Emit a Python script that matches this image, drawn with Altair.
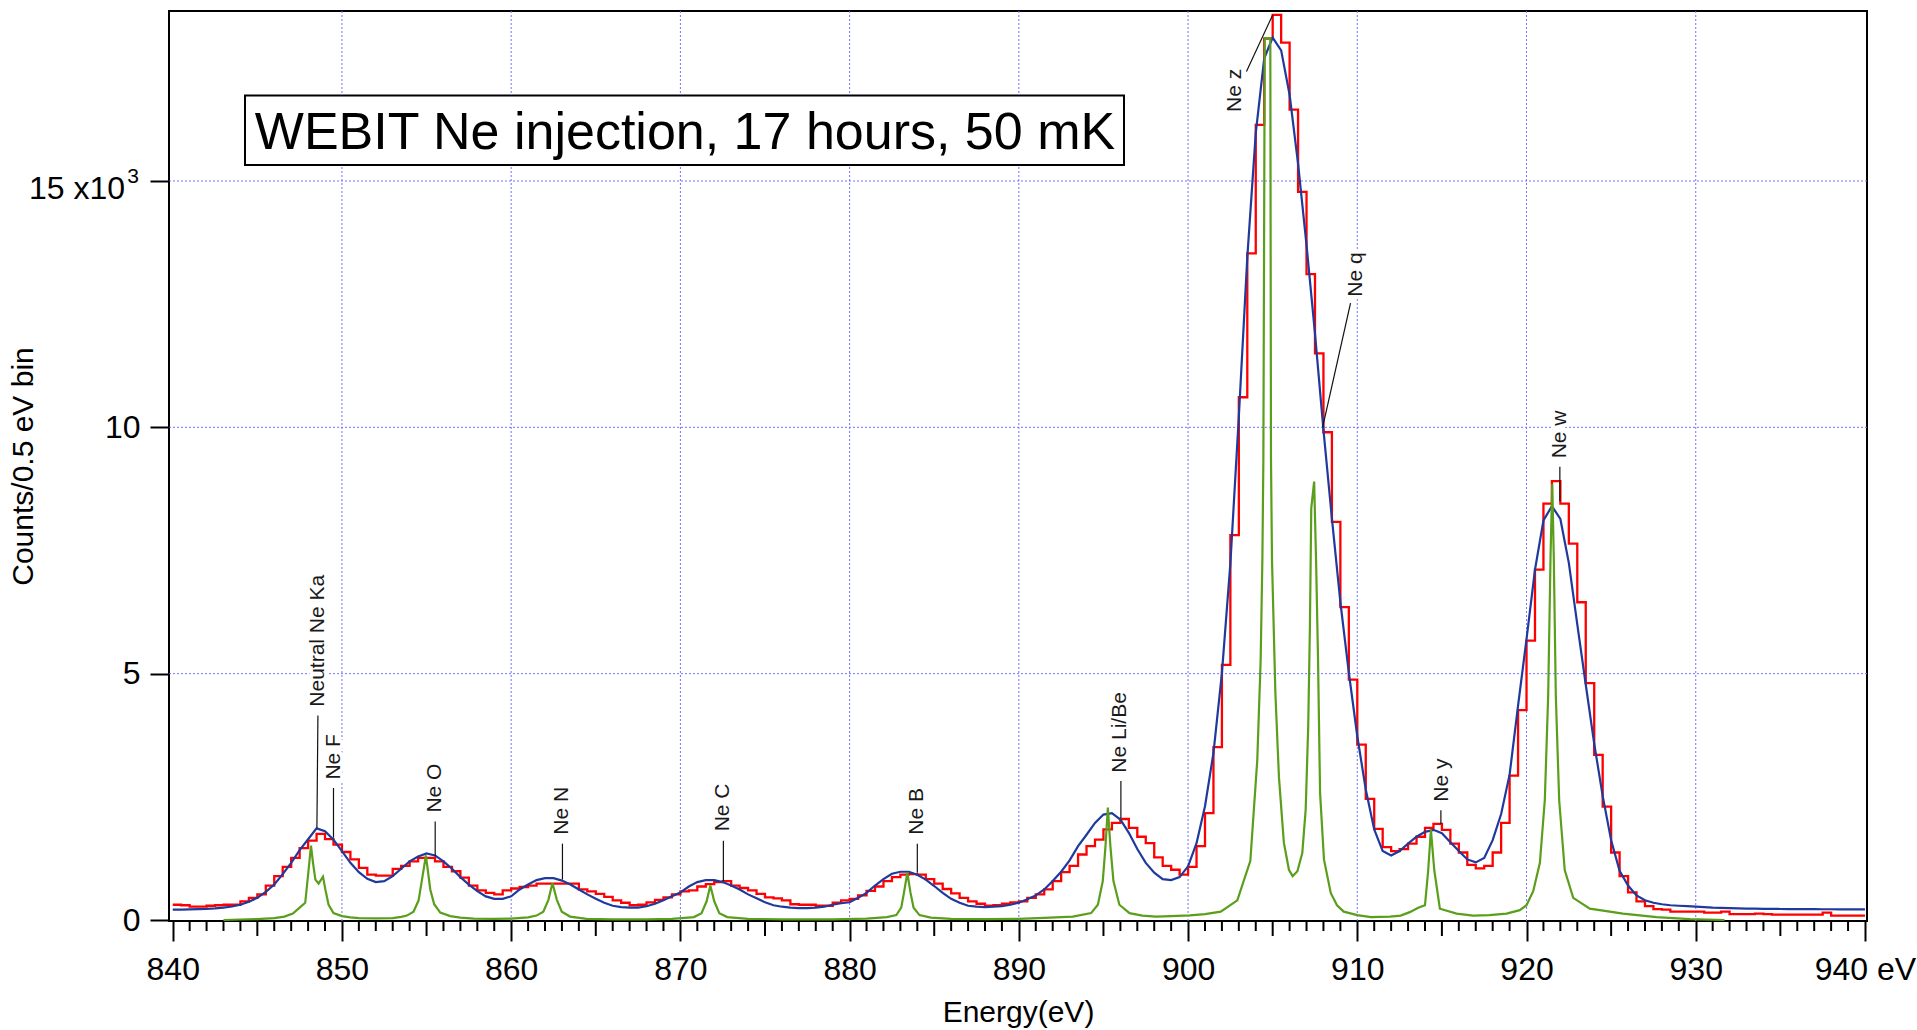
import altair as alt
import pandas as pd

# ---------------- data ----------------
# Measured spectrum: counts in 0.5 eV bins, first bin starts at 840.0 eV
HIST_START = 840.0
HIST_STEP = 0.5
hist_counts = [
    310, 300, 270, 270, 290, 300, 310, 310, 380, 450, 520, 700, 890, 1080, 1260, 1460, 1610, 1750, 1640, 1530,
    1380, 1230, 1060, 920, 900, 900, 1040, 1100, 1190, 1260, 1260, 1190, 1080, 990, 860, 700, 600, 550, 520, 600,
    640, 670, 700, 740, 740, 740, 740, 740, 620, 580, 530, 470, 400, 350, 300, 310, 360, 410, 460, 520,
    580, 600, 680, 730, 770, 790, 700, 650, 600, 530, 460, 440, 400, 320, 310, 310, 290, 290, 350, 400,
    430, 500, 590, 680, 790, 870, 920, 930, 920, 830, 740, 630, 540, 450, 380, 330, 290, 300, 330, 360,
    380, 450, 520, 620, 790, 970, 1100, 1330, 1500, 1630, 1840, 1970, 2050, 1870, 1690, 1560, 1270, 1100, 1020, 920,
    1080, 1500, 2170, 3510, 5180, 7810, 10610, 13530, 16140, 17890, 18370, 17810, 16450, 14780, 13110, 11500, 9900, 8080, 6350, 4880,
    3560, 2460, 1850, 1480, 1400, 1440, 1550, 1690, 1870, 1950, 1830, 1550, 1370, 1120, 1050, 1100, 1370, 1970, 2930, 4260,
    5670, 7110, 8450, 8910, 8450, 7640, 6450, 4810, 3350, 2300, 1370, 890, 560, 380, 280, 220, 210, 170, 170, 170,
    170, 150, 150, 170, 120, 120, 120, 130, 120, 110, 110, 110, 110, 110, 110, 150, 90, 90, 90, 90,
]

# Fitted model, sampled every 0.5 eV from 840.0 to 940.0 eV
FIT_START = 840.0
FIT_STEP = 0.5
fit_counts = [
    210, 210, 215, 220, 225, 235, 250, 275, 310, 370, 450, 570, 720, 930, 1160, 1420, 1640, 1860, 1800, 1630,
    1400, 1160, 970, 835, 770, 790, 890, 1040, 1190, 1290, 1350, 1310, 1190, 1040, 870, 720, 585, 480, 430, 430,
    480, 620, 720, 810, 850, 850, 800, 720, 620, 520, 430, 350, 290, 260, 250, 250, 280, 330, 400, 480,
    560, 680, 770, 810, 810, 770, 700, 620, 520, 440, 360, 300, 270, 250, 240, 240, 250, 270, 310, 340,
    360, 450, 550, 700, 830, 940, 980, 980, 920, 820, 690, 550, 430, 350, 290, 270, 260, 270, 280, 310,
    350, 420, 500, 620, 790, 980, 1210, 1500, 1730, 1970, 2140, 2170, 2040, 1770, 1440, 1160, 960, 830, 810, 870,
    1090, 1560, 2310, 3390, 5010, 7240, 10220, 13450, 15970, 17490, 17910, 17650, 16750, 15350, 13700, 11900, 9950, 8150, 6450, 5020,
    3730, 2650, 1840, 1400, 1310, 1400, 1550, 1690, 1790, 1830, 1760, 1580, 1400, 1230, 1170, 1260, 1620, 2150, 2950, 4350,
    5700, 7110, 8110, 8400, 8140, 7250, 6000, 4780, 3580, 2520, 1620, 1000, 700, 500, 400, 350, 320, 300, 290, 280,
    270, 260, 250, 245, 240, 235, 232, 230, 228, 226, 224, 222, 220, 220, 220, 218, 218, 216, 216, 215, 215,
]

# Individual line components (narrow profiles)
line_energy = [
    843.0, 844.0, 845.0, 846.0, 846.6, 847.1, 847.5, 847.83, 848.03, 848.17, 848.29, 848.43, 848.62, 848.88,
    849.02, 849.21, 849.5, 850.0, 850.5, 851.0, 852.0, 853.0, 853.5, 853.84, 854.23, 854.53, 854.72, 854.96,
    855.22, 855.45, 855.81, 856.4, 857.0, 857.78, 859.0, 860.0, 861.0, 861.5, 861.9, 862.2, 862.44, 862.7,
    862.99, 863.48, 864.46, 866.0, 868.0, 869.5, 870.8, 871.25, 871.55, 871.77, 872.0, 872.3, 872.77, 874.0,
    876.0, 879.0, 881.0, 882.2, 882.76, 883.05, 883.21, 883.41, 883.6, 883.78, 884.13, 884.8, 886.0, 888.0,
    890.0, 891.5, 893.19, 894.27, 894.67, 894.96, 895.12, 895.26, 895.41, 895.59, 895.94, 896.54, 897.3,
    898.1, 898.98, 900.1, 901.0, 901.93, 902.91, 903.68, 904.09, 904.29, 904.39, 904.45, 904.53, 904.86,
    904.9, 904.96, 905.16, 905.37, 905.66, 905.96, 906.18, 906.46, 906.75, 906.95, 907.1, 907.2, 907.28,
    907.45, 907.57, 907.68, 907.8, 908.03, 908.43, 908.8, 909.2, 910.0, 910.8, 911.93, 912.56, 913.1,
    913.6, 914.0, 914.19, 914.35, 914.55, 914.88, 915.87, 916.85, 917.8, 918.82, 919.6, 920.0, 920.4,
    920.79, 921.08, 921.28, 921.42, 921.52, 921.61, 921.73, 921.93, 922.26, 922.76, 923.74, 925.7, 927.68,
    929.65, 931.7,
]
line_counts = [
    0, 10, 20, 40, 70, 130, 250, 350, 1020, 1510, 1160, 820, 740, 880,
    620, 310, 140, 80, 55, 40, 35, 40, 65, 90, 170, 400, 800, 1310,
    620, 320, 150, 80, 50, 30, 25, 30, 55, 90, 170, 410, 750, 410,
    170, 70, 25, 15, 15, 25, 60, 140, 380, 700, 380, 140, 60, 25,
    15, 15, 30, 60, 100, 250, 550, 960, 550, 250, 100, 50, 25, 20,
    25, 45, 70, 140, 310, 790, 1500, 2280, 1500, 790, 310, 140, 90,
    70, 80, 95, 120, 170, 400, 1200, 3250, 5280, 7300, 9340, 17900, 17900,
    9340, 7300, 4600, 2900, 1570, 1020, 890, 990, 1360, 2240, 3930, 5960, 8360,
    8900, 7200, 5280, 2580, 1230, 550, 300, 170, 100, 60, 70, 90, 160,
    250, 300, 1010, 1830, 1010, 230, 130, 90, 100, 130, 200, 300, 590,
    1160, 2430, 4560, 7400, 8850, 7400, 4560, 2430, 1010, 450, 230, 130, 60,
    20, 0,
]

# Line identifications: label text, label anchor, leader line end points
label_text = ["Neutral Ne Ka", "Ne F", "Ne O", "Ne N", "Ne C", "Ne B", "Ne Li/Be", "Ne z", "Ne q", "Ne y", "Ne w"]
label_energy = [848.6, 849.53, 855.51, 863.01, 872.54, 883.99, 896.0, 902.75, 909.9, 915.0, 921.97]
label_counts = [4330, 2850, 2180, 1730, 1800, 1730, 2990, 16400, 12650, 2400, 9370]
leader_e1 = [848.52, 849.50, 855.51, 863.03, 872.54, 884.00, 896.03, 905.00, 907.95, 914.94, 921.97]
leader_c1 = [1870, 1670, 1290, 820, 790, 960, 2070, 18370, 10000, 1950, 8500]
leader_e2 = [848.58, 849.50, 855.51, 863.03, 872.54, 884.00, 896.03, 903.45, 909.60, 914.94, 921.97]
leader_c2 = [4150, 2680, 2000, 1550, 1610, 1550, 2820, 17220, 12520, 2230, 9200]

title_text = "WEBIT Ne injection, 17 hours, 50 mK"
x_major = list(range(840, 941, 10))
y_major = [0, 5000, 10000, 15000]

# ---------------- layout / style ----------------
W, H = 1698, 910
FONT = "Liberation Sans"
RED, BLUE, GREEN = "#ff0000", "#1f3a9c", "#5a9e1c"
GRID = "#7272ff"

x_scale = alt.Scale(domain=[839.78, 940.12], nice=False, zero=False)
y_scale = alt.Scale(domain=[-20, 18450], nice=False, zero=False)

hist_e = [HIST_START + HIST_STEP * i for i in range(len(hist_counts))]
hist_df = pd.DataFrame({
    "energy": hist_e + [hist_e[-1] + HIST_STEP],
    "counts": hist_counts + [hist_counts[-1]],
})
fit_df = pd.DataFrame({
    "energy": [FIT_START + FIT_STEP * i for i in range(len(fit_counts))],
    "counts": fit_counts,
})
line_df = pd.DataFrame({"energy": line_energy, "counts": line_counts})
label_df = pd.DataFrame({"text": label_text, "energy": label_energy, "counts": label_counts})
leader_df = pd.DataFrame({"e1": leader_e1, "c1": leader_c1, "e2": leader_e2, "c2": leader_c2})

x_axis = alt.Axis(
    values=x_major, format="d",
    labelExpr="datum.value == 940 ? '940 eV' : datum.label",
    domain=False, grid=False, ticks=True, tickSize=20, tickWidth=2, tickColor="black",
    labelFont=FONT, labelFontSize=32, labelColor="black", labelPadding=13,
    labelFlush=False, labelOverlap=False, labelBound=False,
    title="Energy(eV)", titleFont=FONT, titleFontSize=30, titleFontWeight="normal",
    titleColor="black", titleY=100, titleBaseline="alphabetic", zindex=1,
)
y_axis = alt.Axis(
    values=y_major,
    labelExpr="datum.value == 15000 ? '' : format(datum.value / 1000, 'd')",
    domain=False, grid=False, ticks=True, tickSize=19, tickWidth=2, tickColor="black",
    labelFont=FONT, labelFontSize=32, labelColor="black", labelPadding=10,
    labelFlush=False, labelOverlap=False,
    title="Counts/0.5 eV bin", titleFont=FONT, titleFontSize=30, titleFontWeight="normal",
    titleColor="black", titleX=-146, titleY=H / 2, titleAngle=270,
    titleAlign="center", titleBaseline="middle", zindex=1,
)


# every layer carries the same axis definition so the shared axes merge cleanly
def xq(field):
    return alt.X(field, type="quantitative", scale=x_scale, axis=x_axis, title="Energy(eV)")


def yq(field):
    return alt.Y(field, type="quantitative", scale=y_scale, axis=y_axis, title="Counts/0.5 eV bin")


one_row = pd.DataFrame({"k": [0]})

grid_x = alt.Chart(pd.DataFrame({"e": x_major[1:-1]})).mark_rule(
    color=GRID, strokeWidth=1, strokeDash=[2, 2]
).encode(x=xq("e"))
grid_y = alt.Chart(pd.DataFrame({"c": y_major[1:]})).mark_rule(
    color=GRID, strokeWidth=1, strokeDash=[2, 2]
).encode(y=yq("c"))

hist = alt.Chart(hist_df).mark_line(
    color=RED, strokeWidth=2.3, interpolate="step-after"
).encode(x=xq("energy"), y=yq("counts"))

fit = alt.Chart(fit_df).mark_line(color=BLUE, strokeWidth=2.2).encode(
    x=xq("energy"), y=yq("counts")
)
lines = alt.Chart(line_df).mark_line(color=GREEN, strokeWidth=2.2).encode(
    x=xq("energy"), y=yq("counts")
)

leaders = alt.Chart(leader_df).mark_rule(color="#111111", strokeWidth=1.2).encode(
    x=xq("e1"), x2="e2", y=yq("c1"), y2="c2"
)

label_base = dict(angle=270, align="left", baseline="middle", font=FONT, fontSize=21)
label_halo = alt.Chart(label_df).mark_text(
    fill="white", stroke="white", strokeWidth=8, strokeJoin="round", **label_base
).encode(x=xq("energy"), y=yq("counts"), text="text:N")
labels = alt.Chart(label_df).mark_text(fill="#1a1a1a", **label_base).encode(
    x=xq("energy"), y=yq("counts"), text="text:N"
)

# minor (1 eV) and intermediate (5 eV) ticks under the energy axis
minor_e = [e for e in range(841, 940) if e % 5 != 0]
mid_e = [e for e in range(845, 940, 10)]
minor_ticks = alt.Chart(pd.DataFrame({"e": minor_e})).mark_rule(color="black", strokeWidth=2).encode(
    x=xq("e"), y=alt.value(H), y2=alt.value(H + 10)
)
mid_ticks = alt.Chart(pd.DataFrame({"e": mid_e})).mark_rule(color="black", strokeWidth=2).encode(
    x=xq("e"), y=alt.value(H), y2=alt.value(H + 15)
)

# "15 x10^3" tick label with a raised exponent
y15_main = alt.Chart(one_row).mark_text(
    text="15 x10", font=FONT, fontSize=32, align="right", baseline="alphabetic", color="black"
).encode(x=alt.value(-44), y=alt.value(188))
y15_exp = alt.Chart(one_row).mark_text(
    text="3", font=FONT, fontSize=21, align="right", baseline="alphabetic", color="black"
).encode(x=alt.value(-30), y=alt.value(172))

title_box = alt.Chart(one_row).mark_rect(fill="white", stroke="black", strokeWidth=2).encode(
    x=alt.value(76), x2=alt.value(955), y=alt.value(84.5), y2=alt.value(154)
)
title = alt.Chart(one_row).mark_text(
    text=title_text, font=FONT, fontSize=52, align="center", baseline="alphabetic", color="black"
).encode(x=alt.value(516), y=alt.value(137.5))

chart = alt.layer(
    grid_x, grid_y, hist, fit, lines, leaders, label_halo, labels,
    minor_ticks, mid_ticks, y15_main, y15_exp, title_box, title,
).resolve_axis(
    x="shared", y="shared"
).properties(
    width=W, height=H,
    padding={"left": 169, "top": 11, "right": 50, "bottom": 109},
    autosize=alt.AutoSizeParams(type="none"),
    background="white",
).configure_view(
    stroke="black", strokeWidth=2
)

chart.save("out.html", embed_options={"renderer": "svg", "actions": False})
